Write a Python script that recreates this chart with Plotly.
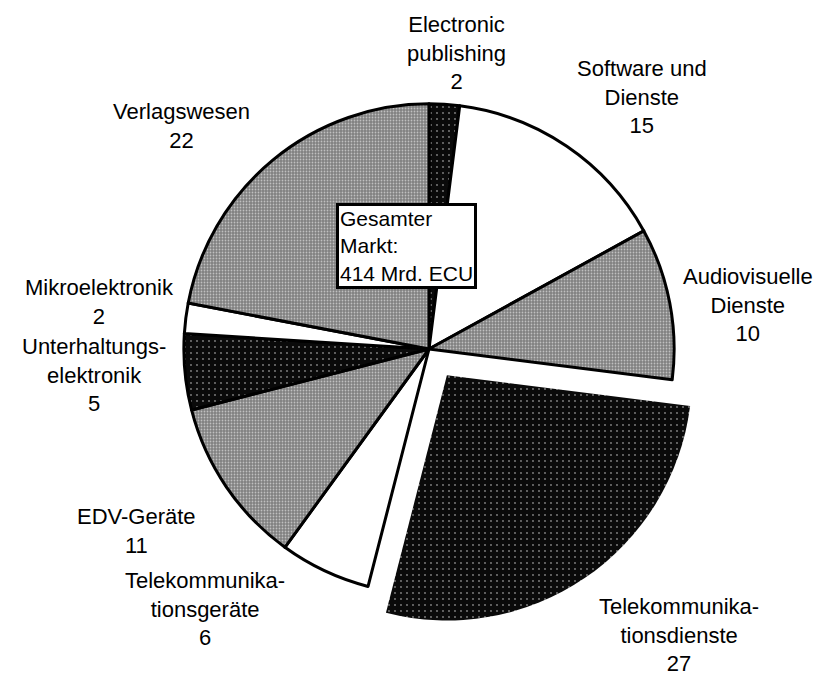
import plotly.graph_objects as go

# Data (clockwise from 12 o'clock)
labels = ["Electronic publishing", "Software und Dienste", "Audiovisuelle Dienste",
          "Telekommunikationsdienste", "Telekommunikationsgeräte", "EDV-Geräte",
          "Unterhaltungselektronik", "Mikroelektronik", "Verlagswesen"]
values = [2, 15, 10, 27, 6, 11, 5, 2, 22]
label_text = ["Electronic<br>publishing", "Software und<br>Dienste", "Audiovisuelle<br>Dienste",
              "Telekommunika-<br>tionsdienste", "Telekommunika-<br>tionsgeräte", "EDV-Geräte",
              "Unterhaltungs-<br>elektronik", "Mikroelektronik", "Verlagswesen"]
pulls = [0, 0, 0, 0.13, 0, 0, 0, 0, 0]
total_text = "Gesamter<br>Markt:<br>414 Mrd. ECU"

# Styles
fill_kind = ["dark", "white", "gray", "dark", "white", "gray", "dark", "white", "gray"]
bg = {"dark": "#0a0a0a", "white": "#ffffff", "gray": "#808080"}
shape = {"dark": ".", "white": "", "gray": "."}
fg = {"dark": "#ffffff", "white": "#000000", "gray": "#ffffff"}
size = {"dark": 6, "white": 8, "gray": 3}
solid = {"dark": 0.07, "white": 0.3, "gray": 0.28}
line_w = [0 if p > 0 else 3 for p in pulls]

W, H = 830, 676
CX, CY, HALF = 421, 341, 277
# label positions (px: center x, center y of block)
label_pos = [(448, 45), (634, 89), (740, 297), (671, 627), (197, 601),
             (128, 523), (86, 367), (91, 294), (173, 118)]

fig = go.Figure(go.Pie(
    labels=labels, values=values, sort=False, direction="clockwise", rotation=0,
    pull=pulls, textinfo="none", hoverinfo="label+value",
    marker=dict(
        colors=[bg[k] for k in fill_kind],
        line=dict(color="#000000", width=line_w),
        pattern=dict(shape=[shape[k] for k in fill_kind],
                     fgcolor=[fg[k] for k in fill_kind],
                     size=[size[k] for k in fill_kind],
                     solidity=[solid[k] for k in fill_kind],
                     fillmode="overlay"),
    ),
    domain=dict(x=[(CX - HALF) / W, (CX + HALF) / W],
                y=[1 - (CY + HALF) / H, 1 - (CY - HALF) / H]),
    showlegend=False,
))

annotations = []
for txt, v, (px, py) in zip(label_text, values, label_pos):
    annotations.append(dict(
        text=f"{txt}<br>{v}", x=px / W, y=1 - py / H, xref="paper", yref="paper",
        xanchor="center", yanchor="middle", showarrow=False, align="center",
        font=dict(family="Liberation Sans, Arial, sans-serif", size=22, color="#000000"),
    ))
annotations.append(dict(
    text=total_text, x=328 / W, y=1 - 195 / H, xref="paper", yref="paper",
    xanchor="left", yanchor="top", showarrow=False, align="left",
    font=dict(family="Liberation Sans, Arial, sans-serif", size=21, color="#000000"),
    bgcolor="#ffffff", bordercolor="#000000", borderwidth=3, borderpad=1,
))

fig.update_layout(
    width=W, height=H, margin=dict(l=0, r=0, t=0, b=0),
    paper_bgcolor="#ffffff", plot_bgcolor="#ffffff",
    annotations=annotations,
)
fig.write_html("out.html")
